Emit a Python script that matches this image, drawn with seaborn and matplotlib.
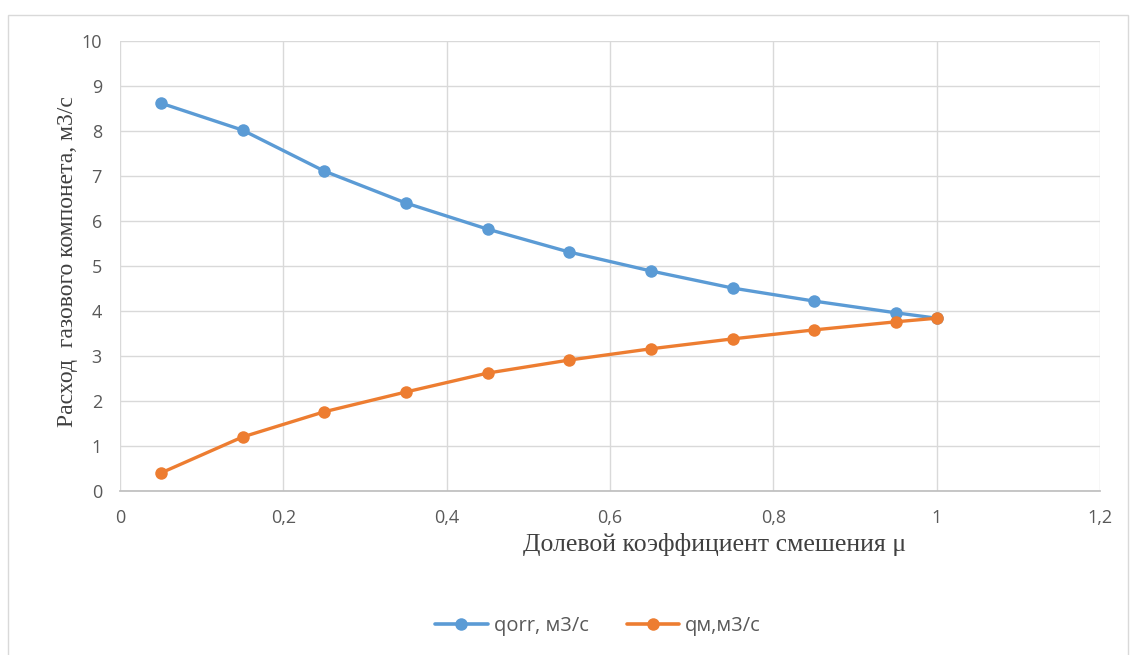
import matplotlib
matplotlib.use("Agg")
import matplotlib.pyplot as plt
from matplotlib.patches import Rectangle
from matplotlib.ticker import FuncFormatter, MultipleLocator
import numpy as np
import pandas as pd
import seaborn as sns

# Mixing fraction and gas component flow rates
mu = [0.05, 0.15, 0.25, 0.35, 0.45, 0.55, 0.65, 0.75, 0.85, 0.95, 1.0]
q_org = [8.62, 8.02, 7.11, 6.40, 5.82, 5.31, 4.89, 4.51, 4.22, 3.96, 3.84]
q_m = [0.40, 1.20, 1.76, 2.20, 2.62, 2.91, 3.16, 3.38, 3.58, 3.76, 3.84]
series_names = ["qorr, м3/с", "qм,м3/с"]
colors = ["#5B9BD5", "#ED7D31"]

df = pd.concat([
    pd.DataFrame({"mu": mu, "q": q_org, "series": series_names[0]}),
    pd.DataFrame({"mu": mu, "q": q_m, "series": series_names[1]}),
], ignore_index=True)

sns.set_theme(style="whitegrid")
plt.rcParams["font.family"] = ["Open Sans", "DejaVu Sans"]

fig = plt.figure(figsize=(11.3, 6.55), dpi=100)
ax = fig.add_axes([120 / 1130, 1 - 491 / 655, 980 / 1130, 450 / 655])

# Outer chart frame
fig.patches.append(Rectangle((8 / 1130, -5 / 655), 1120 / 1130, 645 / 655,
                             transform=fig.transFigure, fill=False,
                             edgecolor="#D9D9D9", linewidth=1.0))

sns.lineplot(data=df, x="mu", y="q", hue="series", palette=colors,
             marker="o", markersize=9, markeredgewidth=0, linewidth=2.4,
             ax=ax, legend=False, sort=False)

ax.set_xlim(0, 1.2)
ax.set_ylim(0, 10)
ax.xaxis.set_major_locator(MultipleLocator(0.2))
ax.yaxis.set_major_locator(MultipleLocator(1))
comma = FuncFormatter(lambda v, p: ("%g" % round(v, 2)).replace(".", ","))
ax.xaxis.set_major_formatter(comma)
ax.yaxis.set_major_formatter(comma)
ax.tick_params(axis="both", labelsize=13, colors="#595959", length=0)
ax.tick_params(axis="x", pad=13)
ax.tick_params(axis="y", pad=13)
ax.grid(True, color="#D9D9D9", linewidth=1.0)
for side in ["top", "right", "left"]:
    ax.spines[side].set_visible(False)
ax.spines["bottom"].set_visible(True)
ax.spines["bottom"].set_color("#BFBFBF")
ax.set_facecolor("white")
ax.set_xlabel("")
ax.set_ylabel("")

serif = ["Liberation Serif", "DejaVu Serif"]
fig.text(68 / 1130, 1 - 262 / 655, "Расход  газового компонета, м3/с",
         rotation=90, ha="center", va="center", fontsize=17,
         color="#404040", family=serif)
fig.text(715 / 1130, 1 - 545 / 655, "Долевой коэффициент смешения μ",
         ha="center", va="center", fontsize=18.5, color="#404040", family=serif)

handles = [plt.Line2D([], [], color=c, marker="o", markersize=9,
                      markeredgewidth=0, linewidth=2.6) for c in colors]
fig.legend(handles, series_names, loc="center", ncol=2,
           bbox_to_anchor=(598 / 1130, 1 - 626 / 655), frameon=False,
           fontsize=14.5, labelcolor="#595959", handlelength=2.6,
           columnspacing=1.9, handletextpad=0.3)

fig.savefig("out.png", dpi=100, facecolor="white")
